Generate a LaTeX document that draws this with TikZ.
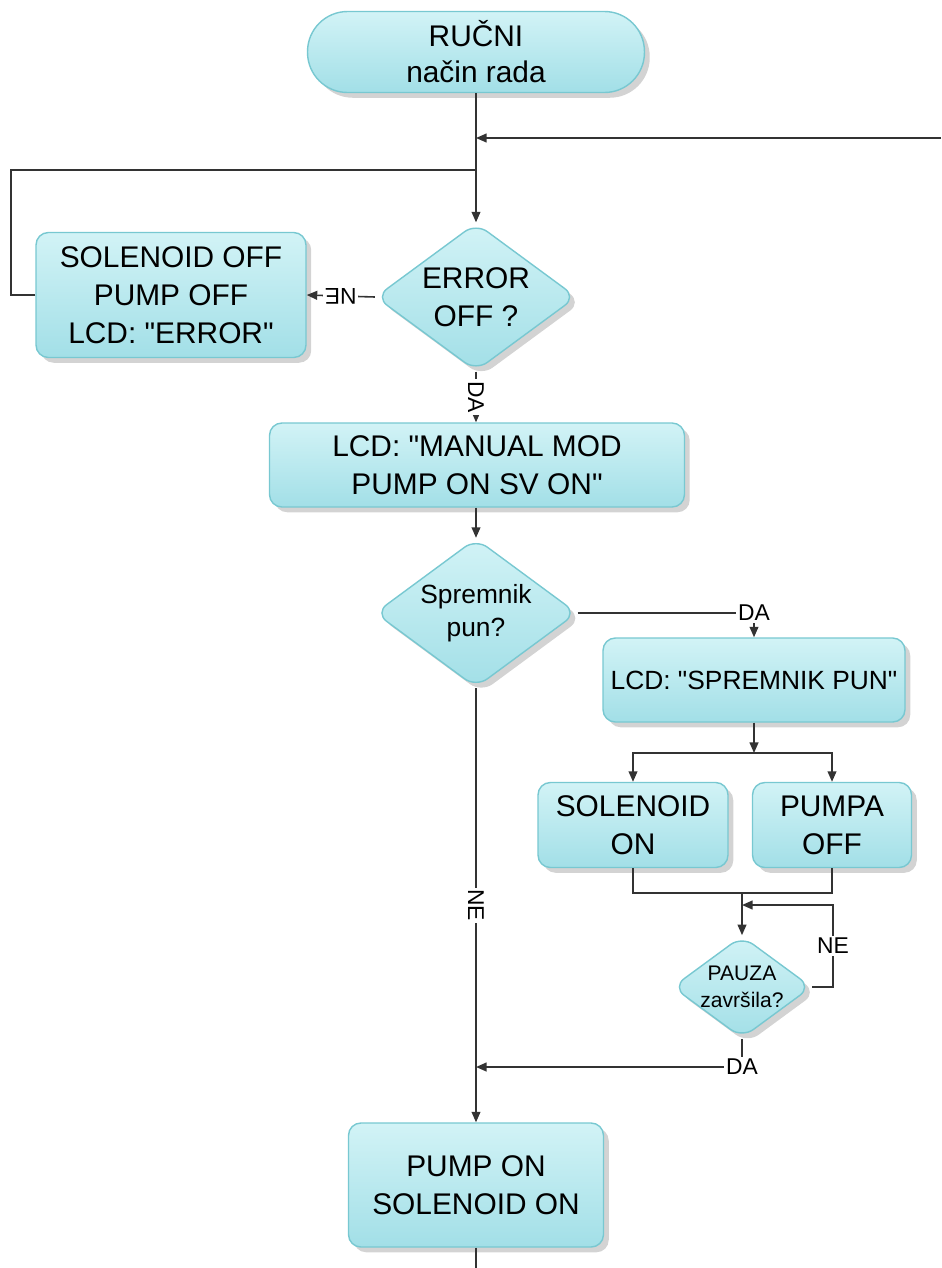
\documentclass[tikz,border=0pt]{standalone}
\usepackage{fontspec}
\setmainfont{Liberation Sans}
\usetikzlibrary{shapes.geometric,shadows,arrows.meta}

\definecolor{boxtop}{HTML}{D2F3F6}
\definecolor{boxbot}{HTML}{A2DFE7}
\definecolor{boxline}{HTML}{78C8D1}

\tikzset{
  block/.style={draw=boxline, line width=0.8pt, top color=boxtop, bottom color=boxbot,
    rounded corners=7pt, align=center, inner sep=0pt,
    font=\fontsize{17}{21.5}\selectfont,
    drop shadow={shadow xshift=3pt, shadow yshift=-3pt, opacity=0.35}},
  terminal/.style={block, rounded corners=0.8cm},
  query/.style={block, diamond, shape aspect=1.36, rounded corners=8pt},
  tag/.style={fill=white, inner sep=1pt, font=\fontsize{13}{13}\selectfont},
}
\newcommand{\qq}{\textquotedbl}

\begin{document}
\begin{tikzpicture}[x=0.02cm, y=-0.02cm]
  \useasboundingbox (0,0) rectangle (941,1268);
  \path
    (476,52) node[terminal, minimum width=6.74cm, minimum height=1.62cm] (0)
      {RUČNI\\[-1pt]način rada}
    (476,297) node[query, minimum width=4.02cm, minimum height=2.96cm] (1)
      {ERROR\\OFF ?}
    (171,295) node[block, minimum width=5.4cm, minimum height=2.5cm] (2)
      {SOLENOID OFF\\PUMP OFF\\LCD: \qq ERROR\qq}
    (477,465) node[block, minimum width=8.3cm, minimum height=1.68cm] (3)
      {LCD: \qq MANUAL MOD\\PUMP ON SV ON\qq}
    (476,613) node[query, minimum width=4.04cm, minimum height=2.98cm,
      font=\fontsize{15}{19}\selectfont] (4) {Spremnik\\pun?}
    (754,680) node[block, minimum width=6.04cm, minimum height=1.68cm,
      font=\fontsize{15}{19}\selectfont] (5) {LCD: \qq SPREMNIK PUN\qq}
    (633,825) node[block, minimum width=3.8cm, minimum height=1.7cm] (6)
      {SOLENOID\\ON}
    (832,825) node[block, minimum width=3.18cm, minimum height=1.7cm] (7)
      {PUMPA\\OFF}
    (742,987) node[query, minimum width=2.72cm, minimum height=2.0cm,
      font=\fontsize{12}{15}\selectfont] (8) {PAUZA\\završila?}
    (476,1185) node[block, minimum width=5.1cm, minimum height=2.48cm] (9)
      {PUMP ON\\SOLENOID ON};

  \coordinate (r) at (941,138);
  \coordinate (l) at (11,170);
  \coordinate (s) at (754,753);
  \coordinate (j) at (742,893);
  \coordinate (n) at (833,905);
  \coordinate (d) at (476,1067);
  \coordinate (e) at (476,1268);

  \begin{scope}[draw=black!80, line width=0.9pt,
      -{Triangle[length=6pt,width=5pt]}]
    \draw (0.south) -- (1.north);
    \draw (r) -- (r -| 1.north);
    \draw[-] (2.west) -| (l) -- (l -| 1.north);
    \draw (1.west) -- node[tag, rotate=180] (ne1) {NE} (2.east);
    \draw (1.south) -- node[tag, rotate=-90] (da1) {DA} (1.south |- 3.north);
    \draw (3.south -| 4.north) -- (4.north);
    \draw (4.east) -| node[tag, pos=0.5] (da2) {DA} (5.north);
    \draw (5.south) -- (s);
    \draw (s) -| (6.north);
    \draw (s) -| (7.north);
    \draw[-] (6.south) |- (j) -| (7.south);
    \draw (j) -- (8.north);
    \draw (8.east) -| node[tag, pos=0.75] (ne2) {NE} (n) -- (n -| 8.north);
    \draw (8.south) |- node[tag, pos=0.5] (da3) {DA} (d);
    \draw (4.south) -- node[tag, rotate=-90] (ne3) {NE} (9.north);
    \draw[-] (9.south) -- (e);
  \end{scope}
\end{tikzpicture}
\end{document}
